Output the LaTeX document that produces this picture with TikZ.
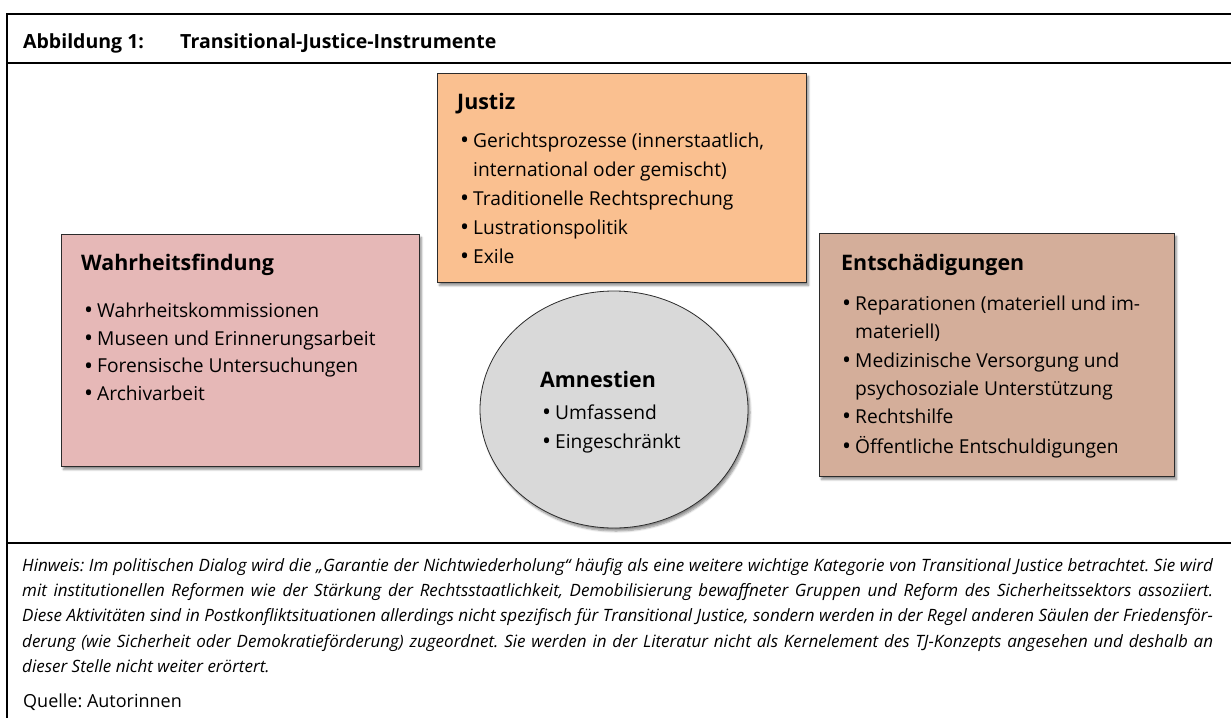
\documentclass[tikz,border=0pt]{standalone}
\usepackage{fontspec}
\setmainfont{Open Sans}
\usetikzlibrary{shapes.geometric,shadows.blur}
\definecolor{pinkbox}{HTML}{E6B8B7}
\definecolor{orangebox}{HTML}{FAC090}
\definecolor{brownbox}{HTML}{D4AE9A}
\definecolor{greyell}{HTML}{D9D9D9}
\definecolor{edge}{HTML}{2B2B2B}
\newcommand{\bl}{\llap{\raisebox{-1.7pt}{\scalebox{1.25}{\textbullet}}\hspace{4pt}}}
\frenchspacing
\begin{document}
\begin{tikzpicture}[x=1pt,y=-1pt,
  frame/.style={line width=2.2pt,black},
  card/.style={draw=edge,line width=0.8pt,blur shadow={shadow xshift=2pt,shadow yshift=-3pt,shadow blur steps=6,shadow opacity=45}},
  hd/.style={font=\fontsize{21.4}{24}\selectfont\bfseries,anchor=base west,inner sep=0pt},
  itm/.style={font=\fontsize{19.2}{24}\selectfont,anchor=base west,inner sep=0pt},
  ttl/.style={font=\fontsize{19.5}{22}\selectfont\bfseries,anchor=base west,inner sep=0pt},
  note/.style={font=\fontsize{17}{20}\selectfont\itshape,anchor=base west,inner sep=0pt},
  src/.style={font=\fontsize{18}{20}\selectfont,anchor=base west,inner sep=0pt}]
\useasboundingbox (0,0) rectangle (1231,718);
% frame
\draw[frame] (1231,14) -- (7,14) -- (7,718);
\draw[frame] (7,63) -- (1231,63);
\draw[frame] (7,543) -- (1231,543);
% title
\node[ttl] (t1) at (23,48) {Abbildung 1:};
\node[ttl] (t2) at (180,48) {Transitional-Justice-Instrumente};
% boxes
\node[card,fill=pinkbox,rectangle,minimum width=358pt,minimum height=232pt,inner sep=0pt,anchor=north west] (wf) at (61,234) {};
\node[card,fill=orangebox,rectangle,minimum width=369pt,minimum height=209pt,inner sep=0pt,anchor=north west] (ju) at (437,73) {};
\node[card,fill=brownbox,rectangle,minimum width=355pt,minimum height=243pt,inner sep=0pt,anchor=north west] (en) at (819,233) {};
\node[card,fill=greyell,ellipse,minimum width=268pt,minimum height=237pt,inner sep=0pt] (am) at (614,409.5) {};
% Wahrheitsfindung
\node[hd] (wfh) at (81,270) {Wahrheitsfindung};
\node[itm] (wf1) at (97,317) {\bl Wahrheitskommissionen};
\node[itm] (wf2) at (97,345) {\bl Museen und Erinnerungsarbeit};
\node[itm] (wf3) at (97,372.5) {\bl Forensische Untersuchungen};
\node[itm] (wf4) at (97,400) {\bl Archivarbeit};
% Justiz
\node[hd] (juh) at (457,109) {Justiz};
\node[itm] (ju1) at (473,147) {\bl Gerichtsprozesse (innerstaatlich,};
\node[itm] (ju2) at (473,176) {international oder gemischt)};
\node[itm] (ju3) at (473,205) {\bl Traditionelle Rechtsprechung};
\node[itm] (ju4) at (473,234) {\bl Lustrationspolitik};
\node[itm] (ju5) at (473,263) {\bl Exile};
% Amnestien
\node[hd] (amh) at (540,387) {Amnestien};
\node[itm] (am1) at (555,419) {\bl Umfassend};
\node[itm] (am2) at (555,448) {\bl Eingeschränkt};
% Entschaedigungen
\node[hd] (enh) at (841,270) {Entschädigungen};
\node[itm] (en1) at (855,310) {\bl Reparationen (materiell und im-};
\node[itm] (en2) at (855,338) {materiell)};
\node[itm] (en3) at (855,367) {\bl Medizinische Versorgung und};
\node[itm] (en4) at (855,395) {psychosoziale Unterstützung};
\node[itm] (en5) at (855,423) {\bl Rechtshilfe};
\node[itm] (en6) at (855,453) {\bl Öffentliche Entschuldigungen};
% note
\node[note] (n1) at (22,571) {\makebox[1191pt][s]{Hinweis: Im politischen Dialog wird die „Garantie der Nichtwiederholung“ häufig als eine weitere wichtige Kategorie von Transitional Justice betrachtet. Sie wird}};
\node[note] (n2) at (22,596) {\makebox[1191pt][s]{mit institutionellen Reformen wie der Stärkung der Rechtsstaatlichkeit, Demobilisierung bewaffneter Gruppen und Reform des Sicherheitssektors assoziiert.}};
\node[note] (n3) at (22,621) {\makebox[1191pt][s]{Diese Aktivitäten sind in Postkonfliktsituationen allerdings nicht spezifisch für Transitional Justice, sondern werden in der Regel anderen Säulen der Friedensför-}};
\node[note] (n4) at (22,647) {\makebox[1191pt][s]{derung (wie Sicherheit oder Demokratieförderung) zugeordnet. Sie werden in der Literatur nicht als Kernelement des TJ-Konzepts angesehen und deshalb an}};
\node[note] (n5) at (22,672) {dieser Stelle nicht weiter erörtert.};
\node[src] (q) at (23,707) {Quelle: Autorinnen};
\end{tikzpicture}
\end{document}
